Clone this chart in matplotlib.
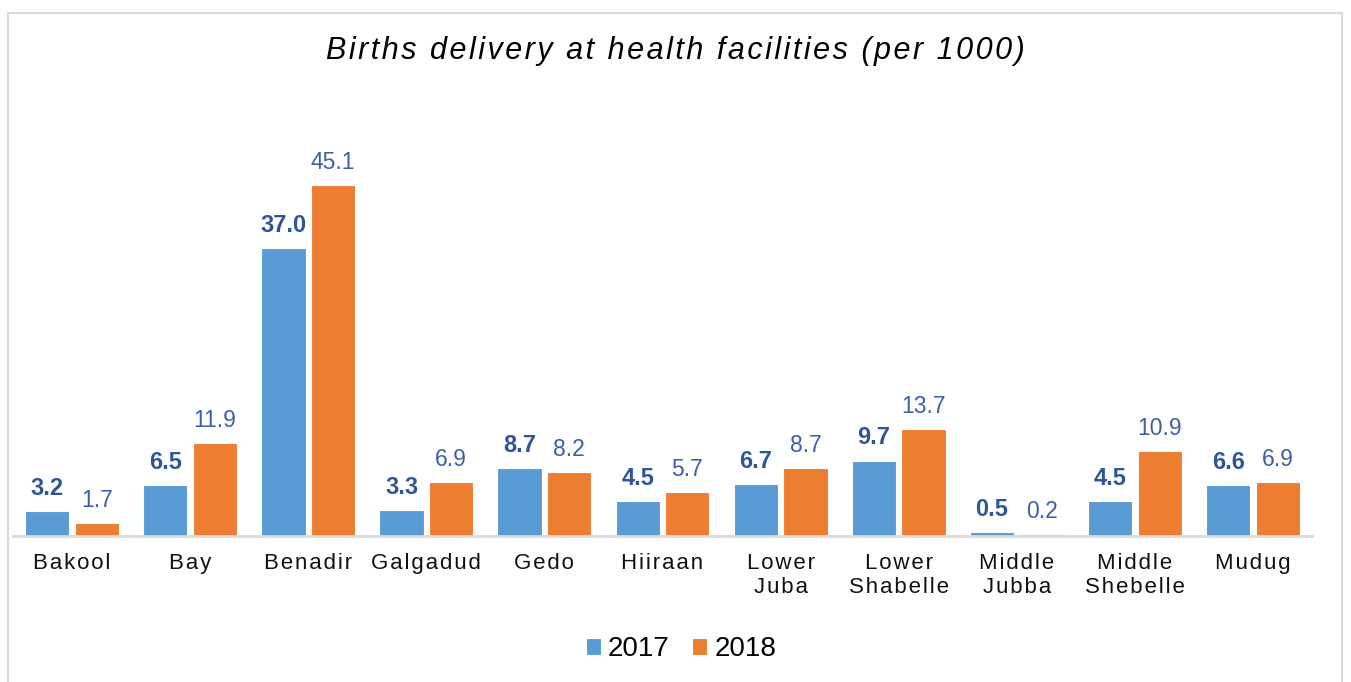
import numpy as np
import matplotlib.pyplot as plt
from matplotlib.patches import Rectangle

plt.rcParams['font.family'] = ['Liberation Sans', 'DejaVu Sans']

regions = ["Bakool", "Bay", "Benadir", "Galgadud", "Gedo", "Hiiraan",
           "Lower\nJuba", "Lower\nShabelle", "Middle\nJubba", "Middle\nShebelle", "Mudug"]
y2017 = [3.2, 6.5, 37.0, 3.3, 8.7, 4.5, 6.7, 9.7, 0.5, 4.5, 6.6]
y2018 = [1.7, 11.9, 45.1, 6.9, 8.2, 5.7, 8.7, 13.7, 0.2, 10.9, 6.9]

blue = '#5B9BD5'
orange = '#ED7D31'
lab17 = '#2F5597'
lab18 = '#3D5FA8'


def spaced(s, sep='\u200a'):
    # fake letter spacing
    return '\n'.join(sep.join(line) for line in s.split('\n'))


W, H = 1351, 682
fig = plt.figure(figsize=(W / 100, H / 100), dpi=100)
ax = fig.add_axes([13 / W, 146 / H, 1299 / W, 389 / H])

x = np.arange(len(regions))
bw = 0.375
b1 = ax.bar(x - 0.21, y2017, bw, color=blue, edgecolor='white', linewidth=0.8, label='2017')
b2 = ax.bar(x + 0.21, y2018, bw, color=orange, edgecolor='white', linewidth=0.8, label='2018')

for rect, v in zip(b1, y2017):
    ax.annotate('%.1f' % v, (rect.get_x() + rect.get_width() / 2, v),
                xytext=(0, 8), textcoords='offset points', ha='center', va='bottom',
                fontsize=17, fontweight='bold', color=lab17)
for rect, v in zip(b2, y2018):
    ax.annotate('%.1f' % v, (rect.get_x() + rect.get_width() / 2, v),
                xytext=(0, 8), textcoords='offset points', ha='center', va='bottom',
                fontsize=16.5, color=lab18)

ax.set_xlim(-0.5, len(regions) - 0.5)
ax.set_ylim(0, 50)
ax.set_xticks(x)
ax.set_xticklabels([spaced(r) for r in regions], fontsize=16, color='#111111',
                   linespacing=1.2)
ax.tick_params(axis='x', length=0, pad=12)
ax.set_yticks([])
for s in ['top', 'right', 'left']:
    ax.spines[s].set_visible(False)
ax.spines['bottom'].set_color('#D9D9D9')
ax.spines['bottom'].set_linewidth(2)

fig.text(0.5, 1 - 51 / H, spaced("Births delivery at health facilities (per 1000)"),
         ha='center', va='center', fontsize=22, style='italic', color='black')

fig.legend(handles=[b1, b2], loc='center', bbox_to_anchor=(681 / W, 1 - 649 / H),
           ncol=2, frameon=False, fontsize=20, handlelength=0.55, handleheight=0.55,
           handletextpad=0.25, columnspacing=0.8)

fig.patches.append(Rectangle((8 / W, -0.05), (1342 - 8) / W, 1.05 - 13 / H,
                             transform=fig.transFigure, fill=False,
                             edgecolor='#D9D9D9', linewidth=1.5, clip_on=False))

fig.savefig('out.png', dpi=100)
